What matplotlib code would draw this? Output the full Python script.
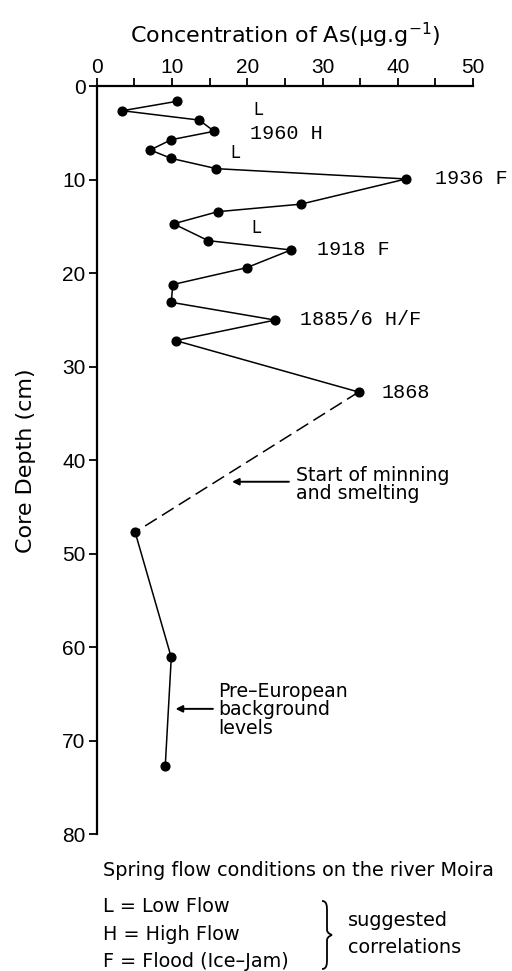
import matplotlib
matplotlib.use("Agg")
import matplotlib.pyplot as plt
from matplotlib.path import Path
from matplotlib.patches import PathPatch

# concentration of As (ug/g) and core depth (cm)
conc = [10.6, 3.4, 13.6, 15.6, 9.9, 7.1, 9.9, 15.9, 41.1, 27.1, 16.1, 10.2,
        14.8, 25.8, 19.9, 10.1, 9.9, 23.7, 10.5, 34.8, 5.1, 9.9, 9.1]
depth = [1.6, 2.6, 3.6, 4.8, 5.7, 6.8, 7.7, 8.8, 9.9, 12.6, 13.4, 14.7,
         16.5, 17.5, 19.4, 21.2, 23.1, 25.0, 27.2, 32.7, 47.7, 61.1, 72.7]
dash_from = 19   # segment 1868 -> 47.7 cm is dashed
dash_to = 20

# flow labels (text, x, depth)
flow_labels = [("L", 21.4, 2.5), ("L", 18.4, 7.1), ("L", 21.1, 15.2)]
year_labels = [("1960 H", 20.4, 5.0), ("1936 F", 45.0, 9.9), ("1918 F", 29.2, 17.4),
               ("1885/6 H/F", 27.0, 24.9), ("1868", 37.8, 32.7)]

xticks = [0, 10, 20, 30, 40, 50]
xminor = [5, 15, 25, 35, 45]
yticks = [0, 10, 20, 30, 40, 50, 60, 70, 80]

sans = "Liberation Sans"
wide = "DejaVu Sans"
mono = "Liberation Mono"

fig = plt.figure(figsize=(5.12, 9.71), dpi=100)
ax = fig.add_axes([0.189, 0.141, 0.735, 0.770])

lw = 1.1
ax.plot(conc[:dash_from + 1], depth[:dash_from + 1], color="black", lw=lw,
        marker="o", ms=6.3)
ax.plot(conc[dash_from:dash_to + 1], depth[dash_from:dash_to + 1], color="black",
        lw=lw, ls=(0, (9, 4)))
ax.plot(conc[dash_to:], depth[dash_to:], color="black", lw=lw, marker="o", ms=6.3)

ax.set_xlim(0, 50)
ax.set_ylim(80, 0)
ax.xaxis.tick_top()
ax.xaxis.set_label_position("top")
ax.set_xticks(xticks)
ax.set_xticks(xminor, minor=True)
ax.set_yticks(yticks)
ax.tick_params(axis="both", which="both", direction="out", length=6, width=1.3,
               labelsize=15, pad=2)
ax.tick_params(axis="x", pad=0.5)
for lab in ax.get_xticklabels() + ax.get_yticklabels():
    lab.set_fontfamily(sans)

for s in ["right", "bottom"]:
    ax.spines[s].set_visible(False)
for s in ["left", "top"]:
    ax.spines[s].set_linewidth(1.6)

ax.set_xlabel("Concentration of As(\u03bcg.g$^{-1}$)", fontsize=16, family=wide,
              labelpad=11)
ax.set_ylabel("Core Depth (cm)", fontsize=16, family=wide, labelpad=19)

for t, x, d in flow_labels:
    ax.text(x, d, t, fontsize=12, family=wide, ha="center", va="center")
for t, x, d in year_labels:
    ax.text(x, d, t, fontsize=14.5, family=mono, ha="left", va="center")

ax.annotate("", xy=(17.6, 42.3), xytext=(25.9, 42.3),
            arrowprops=dict(arrowstyle="-|>", color="black", lw=1.4,
                            mutation_scale=10))
ax.text(26.5, 42.6, "Start of minning\nand smelting", fontsize=13.6, family=wide,
        ha="left", va="center", linespacing=0.92)

ax.annotate("", xy=(10.1, 66.6), xytext=(15.8, 66.6),
            arrowprops=dict(arrowstyle="-|>", color="black", lw=1.4,
                            mutation_scale=10))
ax.text(16.1, 66.7, "Pre\u2013European\nbackground\nlevels", fontsize=13.6,
        family=wide, ha="left", va="center", linespacing=0.95)

# footnote block
fs = 13.9
fig.text(103 / 512, 1 - 870 / 971, "Spring flow conditions on the river Moira",
         fontsize=fs, family=wide, ha="left", va="center")
legend_lines = ["L = Low Flow", "H = High Flow", "F = Flood (Ice\u2013Jam)"]
legend_y = [906, 934, 961]
for t, y in zip(legend_lines, legend_y):
    fig.text(103 / 512, 1 - y / 971, t, fontsize=fs, family=wide,
             ha="left", va="center")
fig.text(348 / 512, 1 - 920 / 971, "suggested", fontsize=fs, family=wide,
         ha="left", va="center")
fig.text(348 / 512, 1 - 947 / 971, "correlations", fontsize=fs, family=wide,
         ha="left", va="center")

# curly brace
x0, w = 322 / 512, 10 / 512
top, bot = 1 - 901 / 971, 1 - 969 / 971
mid = (top + bot) / 2
h = top - bot
xm = x0 + w * 0.5
verts = [(x0, top), (xm, top), (xm, top - h * 0.08), (xm, top - h * 0.15),
         (xm, mid + h * 0.08),
         (xm, mid + h * 0.02), (x0 + w, mid), (x0 + w, mid),
         (x0 + w, mid), (xm, mid - h * 0.02), (xm, mid - h * 0.08),
         (xm, bot + h * 0.15),
         (xm, bot + h * 0.08), (xm, bot), (x0, bot)]
codes = [Path.MOVETO, Path.CURVE4, Path.CURVE4, Path.CURVE4, Path.LINETO,
         Path.CURVE4, Path.CURVE4, Path.CURVE4,
         Path.CURVE4, Path.CURVE4, Path.CURVE4, Path.LINETO,
         Path.CURVE4, Path.CURVE4, Path.CURVE4]
fig.patches.append(PathPatch(Path(verts, codes), transform=fig.transFigure,
                             fill=False, lw=1.3, color="black"))

fig.savefig("out.png", dpi=100)
